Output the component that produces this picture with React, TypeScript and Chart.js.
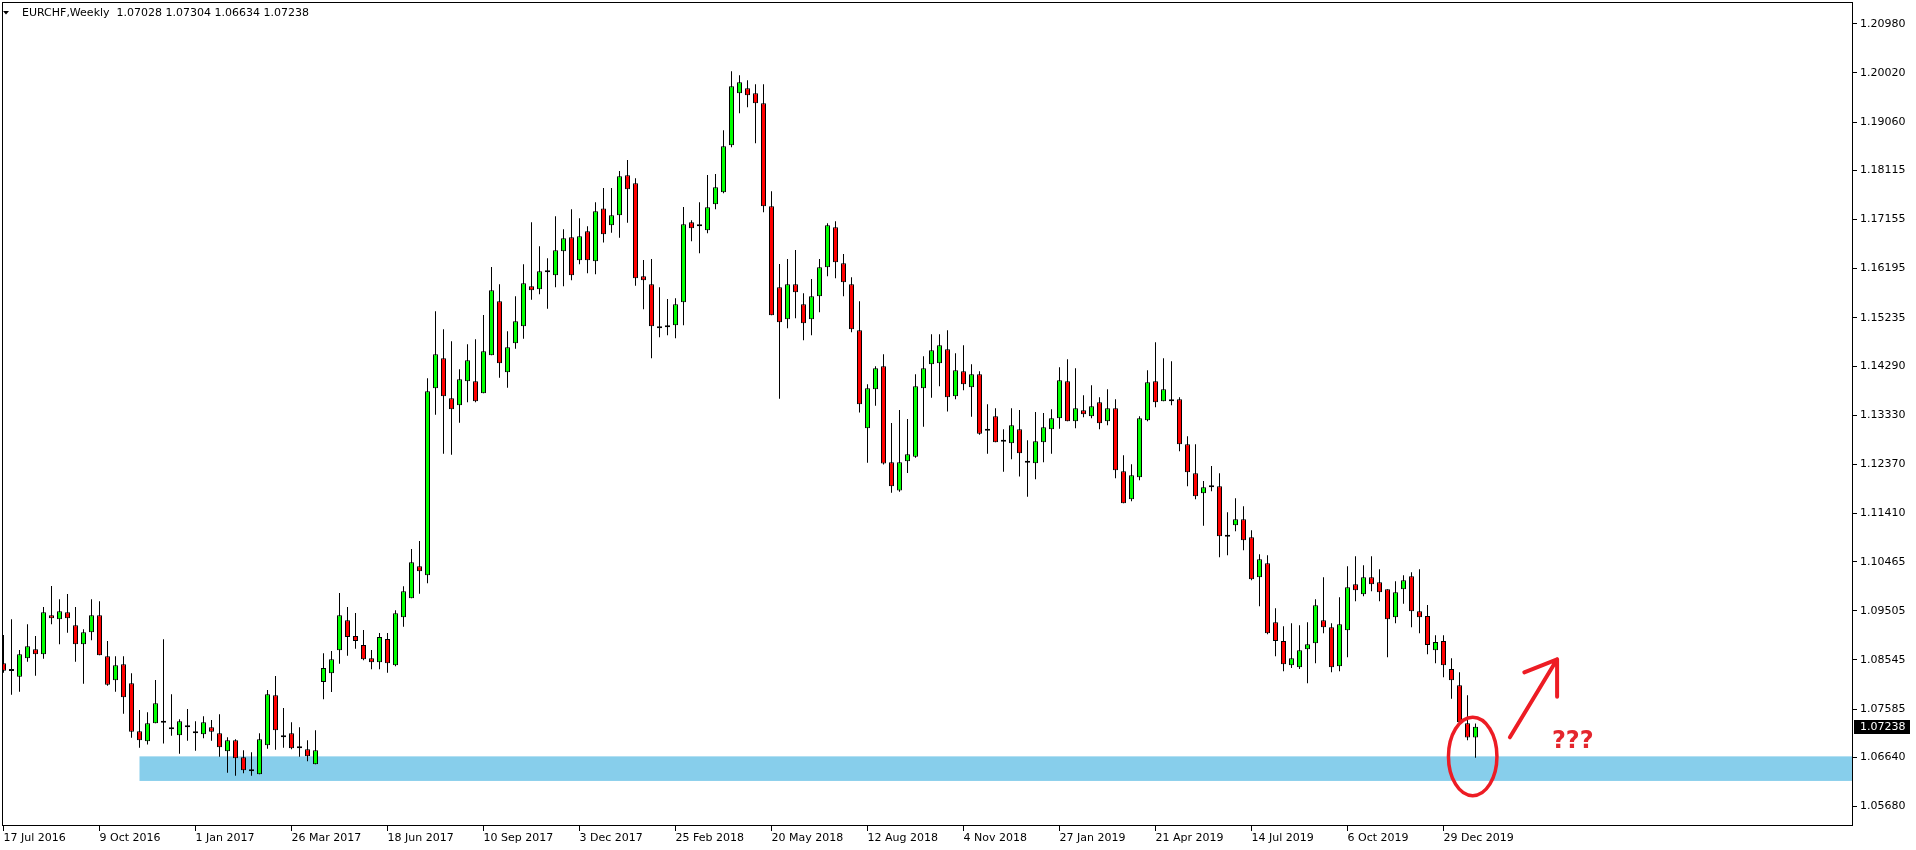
import React, { useEffect, useRef } from 'react';
import { Chart, registerables } from 'chart.js';

Chart.register(...registerables);

const SYMBOL = 'EURCHF';
const PERIOD = 'Weekly';

// Weekly candles, bar 0 = 17 Jul 2016
const OPEN = [
  1.0848, 1.08329, 1.08218, 1.08578, 1.08754, 1.08656, 1.09418, 1.0934, 1.09477, 1.09222,
  1.08851, 1.09086, 1.09418, 1.08617, 1.08148, 1.0846, 1.08089, 1.07151, 1.06954, 1.07306,
  1.07318, 1.0719, 1.07072, 1.07249, 1.07112, 1.07092, 1.07229, 1.07112, 1.0676, 1.06974,
  1.06642, 1.06388, 1.0631, 1.06878, 1.07854, 1.07072, 1.07112, 1.06818, 1.06799, 1.06505,
  1.08114, 1.08284, 1.08734, 1.0932, 1.09014, 1.08837, 1.08578, 1.085, 1.08955, 1.08441,
  1.09379, 1.0975, 1.10375, 1.102, 1.13855, 1.14442, 1.13659, 1.13522, 1.13991, 1.13991,
  1.13757, 1.14501, 1.15556, 1.14167, 1.14735, 1.15067, 1.15849, 1.1579, 1.16122, 1.16063,
  1.16533, 1.16807, 1.16357, 1.16924, 1.16337, 1.1737, 1.17041, 1.17237, 1.18018, 1.17862,
  1.16044, 1.15888, 1.15028, 1.15047, 1.15086, 1.15536, 1.171, 1.17041, 1.16944, 1.17452,
  1.17686, 1.18605, 1.19621, 1.19719, 1.19621, 1.19425, 1.17413, 1.15829, 1.15204, 1.15888,
  1.15497, 1.15204, 1.15653, 1.1622, 1.17002, 1.16298, 1.15888, 1.14989, 1.13073, 1.13835,
  1.14285, 1.1241, 1.11855, 1.12429, 1.12518, 1.13855, 1.14325, 1.14344, 1.14618, 1.13698,
  1.14187, 1.13874, 1.14128, 1.13046, 1.13307, 1.12811, 1.1278, 1.13054, 1.12429, 1.1239,
  1.12799, 1.13054, 1.13268, 1.13991, 1.1321, 1.13425, 1.13307, 1.13581, 1.1321, 1.13464,
  1.12233, 1.11685, 1.12116, 1.13229, 1.13991, 1.136, 1.1362, 1.1364, 1.1276, 1.12194,
  1.11802, 1.11958, 1.11938, 1.10962, 1.11176, 1.11294, 1.10942, 1.1016, 1.10434, 1.09281,
  1.08916, 1.08441, 1.08402, 1.08754, 1.08871, 1.0932, 1.09183, 1.08421, 1.09125, 1.10024,
  1.09829, 1.1016, 1.10063, 1.09926, 1.09379, 1.09926, 1.1018, 1.09496, 1.09405, 1.08734,
  1.08916, 1.08369, 1.0805, 1.07306, 1.07028,
];

const HIGH = [
  1.09033, 1.0934, 1.0874, 1.09242, 1.09013, 1.0958, 1.0999, 1.09731, 1.09834, 1.0958,
  1.09144, 1.09731, 1.09692, 1.08915, 1.08617, 1.08617, 1.08284, 1.07566, 1.07521, 1.08153,
  1.08949, 1.07874, 1.07385, 1.07586, 1.07346, 1.07444, 1.07371, 1.07483, 1.07033, 1.06993,
  1.06779, 1.0674, 1.07112, 1.07958, 1.08232, 1.07606, 1.07326, 1.07229, 1.06974, 1.07171,
  1.08675, 1.0872, 1.09854, 1.0958, 1.09463, 1.09131, 1.0874, 1.09072, 1.09072, 1.09516,
  1.09985, 1.10714, 1.1087, 1.1405, 1.1536, 1.15009, 1.14774, 1.14226, 1.14716, 1.14813,
  1.15288, 1.16226, 1.15888, 1.1497, 1.15653, 1.16279, 1.171, 1.1663, 1.16396, 1.17217,
  1.16963, 1.17354, 1.17178, 1.17022, 1.17491, 1.17771, 1.17771, 1.18103, 1.18318, 1.1796,
  1.16363, 1.16382, 1.15829, 1.156, 1.15614, 1.17399, 1.17139, 1.17491, 1.18024, 1.18044,
  1.18898, 1.20052, 1.19973, 1.19875, 1.19797, 1.19797, 1.17706, 1.16285, 1.16382, 1.16558,
  1.15712, 1.15991, 1.16382, 1.17081, 1.1712, 1.1648, 1.16024, 1.15556, 1.13933, 1.14285,
  1.1452, 1.13176, 1.13431, 1.13255, 1.14128, 1.14481, 1.14911, 1.14911, 1.14989, 1.1454,
  1.14696, 1.14325, 1.14187, 1.13542, 1.13464, 1.13054, 1.13464, 1.13431, 1.12838, 1.13392,
  1.13372, 1.13444, 1.14266, 1.14422, 1.14246, 1.13718, 1.13913, 1.13679, 1.13835, 1.1364,
  1.12546, 1.1237, 1.13307, 1.14207, 1.14755, 1.14442, 1.14383, 1.13679, 1.12916, 1.1276,
  1.12043, 1.12336, 1.12194, 1.11431, 1.11704, 1.11548, 1.11079, 1.1061, 1.1059, 1.09555,
  1.09203, 1.09262, 1.09222, 1.09281, 1.09731, 1.1016, 1.09262, 1.0977, 1.10375, 1.10571,
  1.10395, 1.10571, 1.10317, 1.09926, 1.10082, 1.102, 1.10258, 1.10317, 1.09619, 1.09027,
  1.09027, 1.08578, 1.08304, 1.07854, 1.07304,
];

const LOW = [
  1.08296, 1.07866, 1.07925, 1.08511, 1.08238, 1.0857, 1.09242, 1.08851, 1.09078, 1.08511,
  1.08081, 1.08929, 1.08636, 1.08042, 1.07925, 1.07494, 1.07025, 1.0683, 1.06891, 1.07306,
  1.0691, 1.07064, 1.06713, 1.06966, 1.06771, 1.07013, 1.06966, 1.06654, 1.06342, 1.06283,
  1.0633, 1.06283, 1.0631, 1.0681, 1.06791, 1.0683, 1.06798, 1.06654, 1.06564, 1.06505,
  1.07776, 1.07919, 1.08472, 1.08629, 1.08765, 1.08539, 1.08362, 1.08362, 1.08296, 1.08421,
  1.09196, 1.0975, 1.0984, 1.10044, 1.13339, 1.12577, 1.12557, 1.13182, 1.13581, 1.13581,
  1.13757, 1.14501, 1.14063, 1.13866, 1.14629, 1.14825, 1.15587, 1.15693, 1.15411, 1.15829,
  1.15849, 1.15966, 1.16279, 1.16102, 1.16083, 1.16705, 1.16897, 1.16799, 1.17092, 1.1586,
  1.15399, 1.14442, 1.14852, 1.14891, 1.14832, 1.15086, 1.16728, 1.16494, 1.16885, 1.17354,
  1.17666, 1.18566, 1.1923, 1.19347, 1.18644, 1.17295, 1.15282, 1.13652, 1.15028, 1.15223,
  1.14794, 1.14891, 1.1534, 1.16044, 1.16005, 1.15653, 1.1495, 1.13381, 1.12402, 1.13515,
  1.12363, 1.11815, 1.11835, 1.122, 1.12499, 1.13104, 1.13671, 1.13894, 1.13401, 1.1364,
  1.13816, 1.133, 1.12948, 1.12577, 1.12799, 1.12226, 1.12468, 1.12133, 1.11737, 1.12075,
  1.1241, 1.12577, 1.13065, 1.1321, 1.13073, 1.13288, 1.13268, 1.13054, 1.13132, 1.12096,
  1.11607, 1.11646, 1.12057, 1.1321, 1.13483, 1.136, 1.13522, 1.12623, 1.11941, 1.11685,
  1.11169, 1.11841, 1.10551, 1.1059, 1.11059, 1.10688, 1.10102, 1.09594, 1.09046, 1.08617,
  1.08323, 1.08388, 1.08369, 1.08089, 1.0848, 1.09066, 1.08304, 1.08323, 1.08597, 1.09692,
  1.0979, 1.09887, 1.09692, 1.08597, 1.09262, 1.09645, 1.09183, 1.09066, 1.08656, 1.0848,
  1.08206, 1.07786, 1.07326, 1.06974, 1.06634,
];

const CLOSE = [
  1.08335, 1.08343, 1.08656, 1.08812, 1.08656, 1.09477, 1.0936, 1.09496, 1.0936, 1.08851,
  1.09086, 1.09418, 1.08636, 1.08062, 1.08441, 1.07816, 1.07143, 1.06974, 1.07306, 1.07697,
  1.07326, 1.07229, 1.07346, 1.07229, 1.07151, 1.07326, 1.07143, 1.06838, 1.06974, 1.06623,
  1.06388, 1.06369, 1.06993, 1.07874, 1.07171, 1.07033, 1.06818, 1.06857, 1.06662, 1.06779,
  1.08388, 1.08558, 1.09418, 1.08994, 1.08916, 1.08558, 1.085, 1.08994, 1.0848, 1.09457,
  1.09887, 1.10454, 1.10278, 1.13796, 1.1452, 1.13698, 1.13444, 1.14031, 1.14403, 1.136,
  1.14579, 1.15771, 1.14344, 1.14657, 1.15165, 1.15907, 1.15771, 1.16141, 1.16161, 1.16552,
  1.16787, 1.16063, 1.16826, 1.16357, 1.17315, 1.16866, 1.17237, 1.17999, 1.17744, 1.16005,
  1.15966, 1.15067, 1.15067, 1.15067, 1.15497, 1.17061, 1.16983, 1.17022, 1.17393, 1.17784,
  1.18585, 1.19758, 1.19836, 1.19582, 1.19425, 1.17413, 1.15282, 1.15145, 1.15888, 1.15732,
  1.15126, 1.15653, 1.1622, 1.17041, 1.16318, 1.15927, 1.15008, 1.13542, 1.13855, 1.14246,
  1.12383, 1.11941, 1.1241, 1.12565, 1.13894, 1.14246, 1.14598, 1.14696, 1.13679, 1.14207,
  1.13933, 1.14128, 1.12967, 1.13026, 1.12799, 1.12825, 1.13132, 1.12585, 1.12402, 1.12819,
  1.13093, 1.13268, 1.14011, 1.1321, 1.13464, 1.13347, 1.13503, 1.13171, 1.13464, 1.12252,
  1.11607, 1.12155, 1.13268, 1.13972, 1.13581, 1.13835, 1.136, 1.1276, 1.12213, 1.11744,
  1.11919, 1.11919, 1.10962, 1.10954, 1.11294, 1.10883, 1.10121, 1.10512, 1.09066, 1.08916,
  1.0846, 1.08578, 1.08734, 1.08851, 1.09613, 1.09183, 1.08402, 1.09242, 1.09965, 1.09907,
  1.1016, 1.10024, 1.09868, 1.0934, 1.09868, 1.10102, 1.09496, 1.09379, 1.08837, 1.08896,
  1.08441, 1.08148, 1.07326, 1.0703, 1.07238,
];

// Date labels every 12 bars
const DATE_TICK_STEP = 12;
const DATE_TICK_LABELS = [
  '17 Jul 2016', '9 Oct 2016', '1 Jan 2017', '26 Mar 2017', '18 Jun 2017', '10 Sep 2017',
  '3 Dec 2017', '25 Feb 2018', '20 May 2018', '12 Aug 2018', '4 Nov 2018', '27 Jan 2019',
  '21 Apr 2019', '14 Jul 2019', '6 Oct 2019', '29 Dec 2019',
];

const PRICE_TICKS = [
  1.2098, 1.2002, 1.1906, 1.18115, 1.17155, 1.16195, 1.15235, 1.1429, 1.1333,
  1.1237, 1.1141, 1.10465, 1.09505, 1.08545, 1.07585, 1.0664, 1.0568,
];

const Y_MIN = 1.05299;
const Y_MAX = 1.21406;
const X_MIN = -0.1875;
const X_MAX = 231.1875;

// Support zone
const ZONE_START_BAR = 17;
const ZONE_TOP = 1.0666;
const ZONE_BOTTOM = 1.0618;

// Hand-drawn annotation (bar index / price)
const CIRCLE_CENTER = [183.65, 1.06658];
const CIRCLE_RADIUS = [3.03, 0.00766];
const ARROW_TAIL = [188.3, 1.07033];
const ARROW_TIP = [194.2, 1.08558];
const ARROW_HEAD_LEFT = [190.1, 1.08303];
const ARROW_HEAD_DOWN = [194.2, 1.07827];
const NOTE_TEXT = '???';
const NOTE_POS = [193.55, 1.06947];

const FONT = '11px "DejaVu Sans"';
const ANNOT_RED = '#ed1c24';

const overlayPlugin = {
  id: 'mt4Overlay',
  beforeDatasetsDraw(chart: any) {
    const { ctx, chartArea } = chart;
    const x = chart.scales.x;
    const y = chart.scales.y;
    ctx.save();
    const x0 = x.getPixelForValue(ZONE_START_BAR);
    const yt = y.getPixelForValue(ZONE_TOP);
    const yb = y.getPixelForValue(ZONE_BOTTOM);
    ctx.fillStyle = '#87ceeb';
    ctx.fillRect(x0, yt, chartArea.right - x0, yb - yt);
    ctx.restore();
  },
  afterDatasetsDraw(chart: any) {
    const { ctx } = chart;
    const x = chart.scales.x;
    const y = chart.scales.y;
    const px = (p: number[]) => [x.getPixelForValue(p[0]), y.getPixelForValue(p[1])];
    ctx.save();
    // ellipse
    const [cx, cy] = px(CIRCLE_CENTER);
    const rx = Math.abs(x.getPixelForValue(CIRCLE_CENTER[0] + CIRCLE_RADIUS[0]) - cx);
    const ry = Math.abs(y.getPixelForValue(CIRCLE_CENTER[1] + CIRCLE_RADIUS[1]) - cy);
    ctx.strokeStyle = ANNOT_RED;
    ctx.lineWidth = 3.5;
    ctx.beginPath();
    ctx.ellipse(cx, cy, rx, ry, 0, 0, Math.PI * 2);
    ctx.stroke();
    // arrow
    const t = px(ARROW_TAIL);
    const tip = px(ARROW_TIP);
    const hl = px(ARROW_HEAD_LEFT);
    const hd = px(ARROW_HEAD_DOWN);
    ctx.lineWidth = 4;
    ctx.lineCap = 'round';
    ctx.lineJoin = 'round';
    ctx.beginPath();
    ctx.moveTo(t[0], t[1]);
    ctx.lineTo(tip[0], tip[1]);
    ctx.moveTo(hl[0], hl[1]);
    ctx.lineTo(tip[0], tip[1]);
    ctx.lineTo(hd[0], hd[1]);
    ctx.stroke();
    // ???
    const n = px(NOTE_POS);
    ctx.fillStyle = '#e4262d';
    ctx.font = 'bold 24px "DejaVu Sans"';
    ctx.textAlign = 'left';
    ctx.textBaseline = 'middle';
    ctx.fillText(NOTE_TEXT, n[0], n[1]);
    ctx.restore();
  },
  afterDraw(chart: any) {
    const { ctx, chartArea } = chart;
    const y = chart.scales.y;
    ctx.save();
    // frame
    ctx.strokeStyle = '#000';
    ctx.lineWidth = 1;
    ctx.strokeRect(chartArea.left + 0.5, chartArea.top + 0.5, chartArea.right - chartArea.left - 1, chartArea.bottom - chartArea.top - 1);
    // header
    const last = CLOSE.length - 1;
    ctx.fillStyle = '#000';
    ctx.beginPath();
    ctx.moveTo(chartArea.left + 1, chartArea.top + 9);
    ctx.lineTo(chartArea.left + 7, chartArea.top + 9);
    ctx.lineTo(chartArea.left + 4, chartArea.top + 12.5);
    ctx.closePath();
    ctx.fill();
    ctx.font = FONT;
    ctx.textAlign = 'left';
    ctx.textBaseline = 'middle';
    const header = `${SYMBOL},${PERIOD}  ${OPEN[last].toFixed(5)} ${HIGH[last].toFixed(5)} ${LOW[last].toFixed(5)} ${CLOSE[last].toFixed(5)}`;
    ctx.fillText(header, chartArea.left + 20, chartArea.top + 11.5);
    // current price box
    const yp = y.getPixelForValue(CLOSE[last]);
    ctx.fillStyle = '#000';
    ctx.fillRect(chartArea.right + 1, Math.round(yp) - 7, 56, 14);
    ctx.fillStyle = '#fff';
    ctx.fillText(CLOSE[last].toFixed(5), chartArea.right + 7, Math.round(yp));
    ctx.restore();
  },
};

export default function App() {
  const canvasRef = useRef<HTMLCanvasElement | null>(null);

  useEffect(() => {
    document.body.style.margin = '0';
    document.body.style.overflow = 'hidden';
    const canvas = canvasRef.current;
    if (!canvas) return;

    const bodies = OPEN.map((o, i) => ({ x: i, y: [o, CLOSE[i]] }));
    const wicks = LOW.map((l, i) => ({ x: i, y: [l, HIGH[i]] }));
    const bodyColors = OPEN.map((o, i) => (CLOSE[i] >= o ? '#00ff00' : '#ff0000'));

    const chart = new Chart(canvas, {
      type: 'bar',
      data: {
        datasets: [
          {
            label: 'body',
            data: bodies as any,
            backgroundColor: bodyColors,
            borderColor: '#000000',
            borderWidth: 1,
            borderSkipped: false,
            barThickness: 5,
            grouped: false,
            minBarLength: 2,
            inflateAmount: 0,
            order: 0,
            clip: 0,
          } as any,
          {
            label: 'wick',
            data: wicks as any,
            backgroundColor: '#000000',
            borderWidth: 0,
            barThickness: 1,
            grouped: false,
            inflateAmount: 0,
            order: 1,
            clip: 0,
          } as any,
        ],
      },
      options: {
        responsive: false,
        devicePixelRatio: 1,
        animation: false,
        events: [],
        layout: { padding: { left: 2, top: 2, right: 0, bottom: 0 } },
        plugins: { legend: { display: false }, tooltip: { enabled: false }, title: { display: false } },
        scales: {
          x: {
            type: 'linear',
            min: X_MIN,
            max: X_MAX,
            bounds: 'data',
            offset: false,
            border: { display: false },
            grid: { display: true, offset: false, drawOnChartArea: false, drawTicks: true, tickLength: 5, color: '#000' },
            ticks: {
              autoSkip: false,
              maxRotation: 0,
              minRotation: 0,
              align: 'start',
              padding: 1,
              color: '#000',
              font: { family: 'DejaVu Sans', size: 11 },
              callback: (v: any) => DATE_TICK_LABELS[Math.round(Number(v) / DATE_TICK_STEP)] ?? '',
            },
            afterBuildTicks: (scale: any) => {
              scale.ticks = DATE_TICK_LABELS.map((_, k) => ({ value: k * DATE_TICK_STEP }));
            },
            afterFit: (scale: any) => {
              scale.height = 24;
              scale.paddingLeft = 0;
              scale.paddingRight = 0;
            },
          } as any,
          y: {
            type: 'linear',
            position: 'right',
            min: Y_MIN,
            max: Y_MAX,
            bounds: 'data',
            border: { display: false },
            grid: { display: true, drawOnChartArea: false, drawTicks: true, tickLength: 4, color: '#000' },
            ticks: {
              autoSkip: false,
              padding: 3,
              color: '#000',
              font: { family: 'DejaVu Sans', size: 11 },
              callback: (v: any) => Number(v).toFixed(5),
            },
            afterBuildTicks: (scale: any) => {
              scale.ticks = PRICE_TICKS.map((v) => ({ value: v }));
            },
            afterFit: (scale: any) => {
              scale.width = 63;
              scale.paddingTop = 0;
              scale.paddingBottom = 0;
            },
          } as any,
        },
      },
      plugins: [overlayPlugin],
    });

    return () => chart.destroy();
  }, []);

  return (
    <div style={{ width: 1916, height: 850, background: '#fff' }}>
      <canvas ref={canvasRef} width={1916} height={850} style={{ display: 'block' }} />
    </div>
  );
}
